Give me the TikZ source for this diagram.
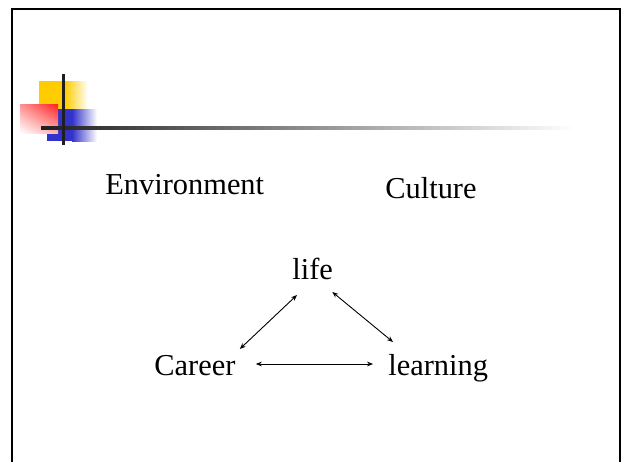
\documentclass[tikz,border=0pt]{standalone}
\usepackage{fontspec}
\setmainfont{Liberation Serif}
\usetikzlibrary{arrows.meta,shadings}
\definecolor{logoyellow}{HTML}{FFCC00}
\definecolor{logoblue}{HTML}{3333CC}
\definecolor{logored}{HTML}{FF2020}
\tikzstyle{word}=[font=\fontsize{15.2}{18}\selectfont, inner sep=0pt, anchor=base west]
\tikzstyle{link}=[{Stealth[length=3pt,width=2.4pt]}-{Stealth[length=3pt,width=2.4pt]}, line width=0.45pt]
\tikzstyle{bar}=[fill=black!88]

\begin{document}
\begin{tikzpicture}[x=0.5pt,y=-0.5pt]
\useasboundingbox (0,0) rectangle (622,462);
% slide frame
\draw[line width=1.1pt] (12,462) -- (12,9) -- (620,9) -- (620,462);
% logo
\fill[logoyellow] (39,81) rectangle (65,109);
\shade[left color=logoyellow, right color=white] (65,81) rectangle (88,109);
\fill[logoblue] (47,109) rectangle (72,141);
\shade[left color=logoblue, right color=white] (72,109) rectangle (97,141);
\shade[upper right=logored, upper left=logored!50, lower right=logored!35, lower left=white] (20,104) rectangle (58,133);
\shade[left color=black!88, middle color=black!32, right color=white] (41,126) rectangle (575,129);
\fill[bar] (62,74) rectangle (65,145);
% words
\node[word] (env) at (105,194) {Environment};
\node[word] (culture) at (385,198) {Culture};
\node[word] (life) at (292,279) {life};
\node[word] (career) at (154,375) {Career};
\node[word] (learning) at (388,375) {learning};
% links
\draw[link] ([shift={(5,16)}]life.base west) -- ([shift={(4,-26)}]career.base east);
\draw[link] ([shift={(-1,13)}]life.base east) -- ([shift={(5,-33)}]learning.base west);
\draw[link] ([shift={(20,-11)}]career.base east) -- ([shift={(-15,-11)}]learning.base west);
\end{tikzpicture}
\end{document}
